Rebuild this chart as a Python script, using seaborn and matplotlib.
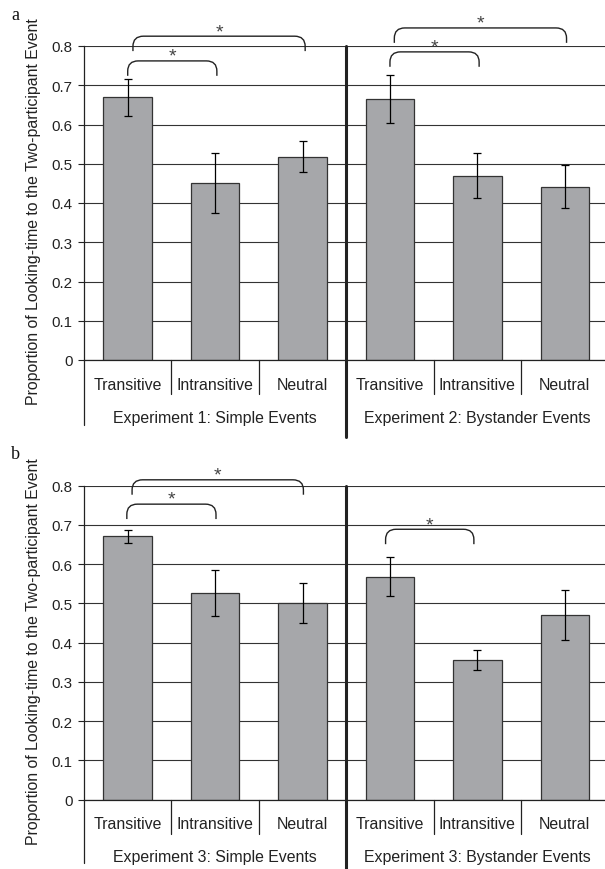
# Looking-time proportions, two panels (a: Exp 1 & 2, b: Exp 3)

import numpy as np
import pandas as pd
import matplotlib
matplotlib.use("Agg")
import matplotlib.pyplot as plt
from matplotlib.path import Path
from matplotlib.patches import PathPatch
import seaborn as sns

# 1. Data
conditions = ["Transitive", "Intransitive", "Neutral"]

panel_a_groups = ["Experiment 1: Simple Events", "Experiment 2: Bystander Events"]
panel_a_means = [0.669, 0.451, 0.518, 0.665, 0.470, 0.442]
panel_a_errs = [0.047, 0.076, 0.040, 0.062, 0.058, 0.056]
# significance brackets: (x start, x end, top height)
panel_a_brackets = [(0.0, 1.02, 0.762), (0.06, 2.03, 0.825),
                    (3.0, 4.02, 0.785), (3.05, 5.02, 0.846)]

panel_b_groups = ["Experiment 3: Simple Events", "Experiment 3: Bystander Events"]
panel_b_means = [0.671, 0.527, 0.501, 0.568, 0.356, 0.471]
panel_b_errs = [0.017, 0.058, 0.050, 0.050, 0.025, 0.063]
panel_b_brackets = [(-0.01, 1.01, 0.753), (0.05, 2.01, 0.815),
                    (2.95, 3.96, 0.689)]

y_ticks = [0, 0.1, 0.2, 0.3, 0.4, 0.5, 0.6, 0.7, 0.8]
y_tick_labels = ["0", "0.1", "0.2", "0.3", "0.4", "0.5", "0.6", "0.7", "0.8"]

# 2. Style
sns.set_style("white")
plt.rcParams["font.family"] = ["Liberation Sans", "DejaVu Sans"]
bar_color = "#a6a7aa"
line_color = "#222222"
txt_color = "#222222"
fs = 11.4

fig = plt.figure(figsize=(6.05, 8.7), dpi=100)
W, H = 605.0, 870.0


def add_bracket(ax, x0, x1, yt):
    drop, ry, rx = 0.038, 0.026, 0.12
    verts = [(x0, yt - drop), (x0, yt - ry), (x0, yt), (x0 + rx, yt),
             (x1 - rx, yt), (x1, yt), (x1, yt - ry), (x1, yt - drop)]
    codes = [Path.MOVETO, Path.LINETO, Path.CURVE3, Path.CURVE3,
             Path.LINETO, Path.CURVE3, Path.CURVE3, Path.LINETO]
    ax.add_patch(PathPatch(Path(verts, codes), fill=False, lw=1.0,
                           ec=line_color, clip_on=False))
    ax.text((x0 + x1) / 2, yt + 0.012, "*", ha="center", va="center",
            fontsize=14, color="#444444", clip_on=False)


def draw_panel(top_px, means, errs, groups, brackets, letter, div_bottom, left_bottom):
    bottom_px = top_px + 314
    ax = fig.add_axes([84 / W, 1 - bottom_px / H, 524.5 / W, 314 / H])

    slots = [g + " | " + c for g in groups for c in conditions]
    df = pd.DataFrame({"slot": slots, "mean": means})
    sns.barplot(data=df, x="slot", y="mean", order=slots, color=bar_color,
                saturation=1, width=0.555, edgecolor="#333333", linewidth=0.9,
                errorbar=None, ax=ax)
    ax.errorbar(np.arange(len(means)), means, yerr=errs, fmt="none",
                ecolor="black", elinewidth=0.9, capsize=2.6, capthick=0.9)

    ax.set_xlim(-0.5, 5.5)
    ax.set_ylim(0, 0.8)
    ax.set_yticks(y_ticks)
    ax.set_yticklabels(y_tick_labels)
    ax.yaxis.grid(True, color="#333333", lw=0.8)
    ax.set_axisbelow(True)
    for s in ["top", "right"]:
        ax.spines[s].set_visible(False)
    ax.spines["left"].set_color(line_color)
    ax.spines["bottom"].set_color(line_color)
    ax.spines["left"].set_linewidth(0.9)
    ax.spines["bottom"].set_linewidth(0.9)
    ax.tick_params(axis="y", left=True, length=4.3, width=0.8, pad=4,
                   labelsize=10.9, labelcolor=txt_color, color=line_color)

    ax.set_xticks(range(6))
    ax.set_xticklabels(conditions * 2)
    ax.tick_params(axis="x", length=0, pad=12, labelsize=fs, labelcolor=txt_color)
    ax.set_xlabel("")
    ax.set_ylabel("Proportion of Looking-time to the Two-participant Event",
                  fontsize=fs, color=txt_color)
    ax.yaxis.set_label_coords(-0.082, 0.476)

    # separators under the axis
    tr = ax.get_xaxis_transform()
    for xs in [0.5, 1.5, 3.5, 4.5]:
        ax.plot([xs, xs], [0, -0.108], transform=tr, clip_on=False, lw=0.9, color=line_color)
    ax.plot([-0.5, -0.5], [0, -left_bottom], transform=tr, clip_on=False, lw=0.9, color=line_color)
    ax.plot([2.5, 2.5], [1, -div_bottom], transform=tr, clip_on=False, lw=2.2, color=line_color)
    for i, g in enumerate(groups):
        ax.text(1 + 3 * i, -0.182, g, transform=tr, ha="center", va="center",
                fontsize=fs, color=txt_color)

    for x0, x1, yt in brackets:
        add_bracket(ax, x0, x1, yt)

    fig.text(15 / W, 1 - (top_px - 32) / H, letter, ha="center", va="center",
             fontsize=13, family="Liberation Serif", color="#111111")
    return ax


# 3. Draw both panels
draw_panel(47, panel_a_means, panel_a_errs, panel_a_groups, panel_a_brackets, "a", 0.245, 0.207)
draw_panel(486.7, panel_b_means, panel_b_errs, panel_b_groups, panel_b_brackets, "b", 0.3, 0.2)

fig.savefig("out.png", dpi=100)
